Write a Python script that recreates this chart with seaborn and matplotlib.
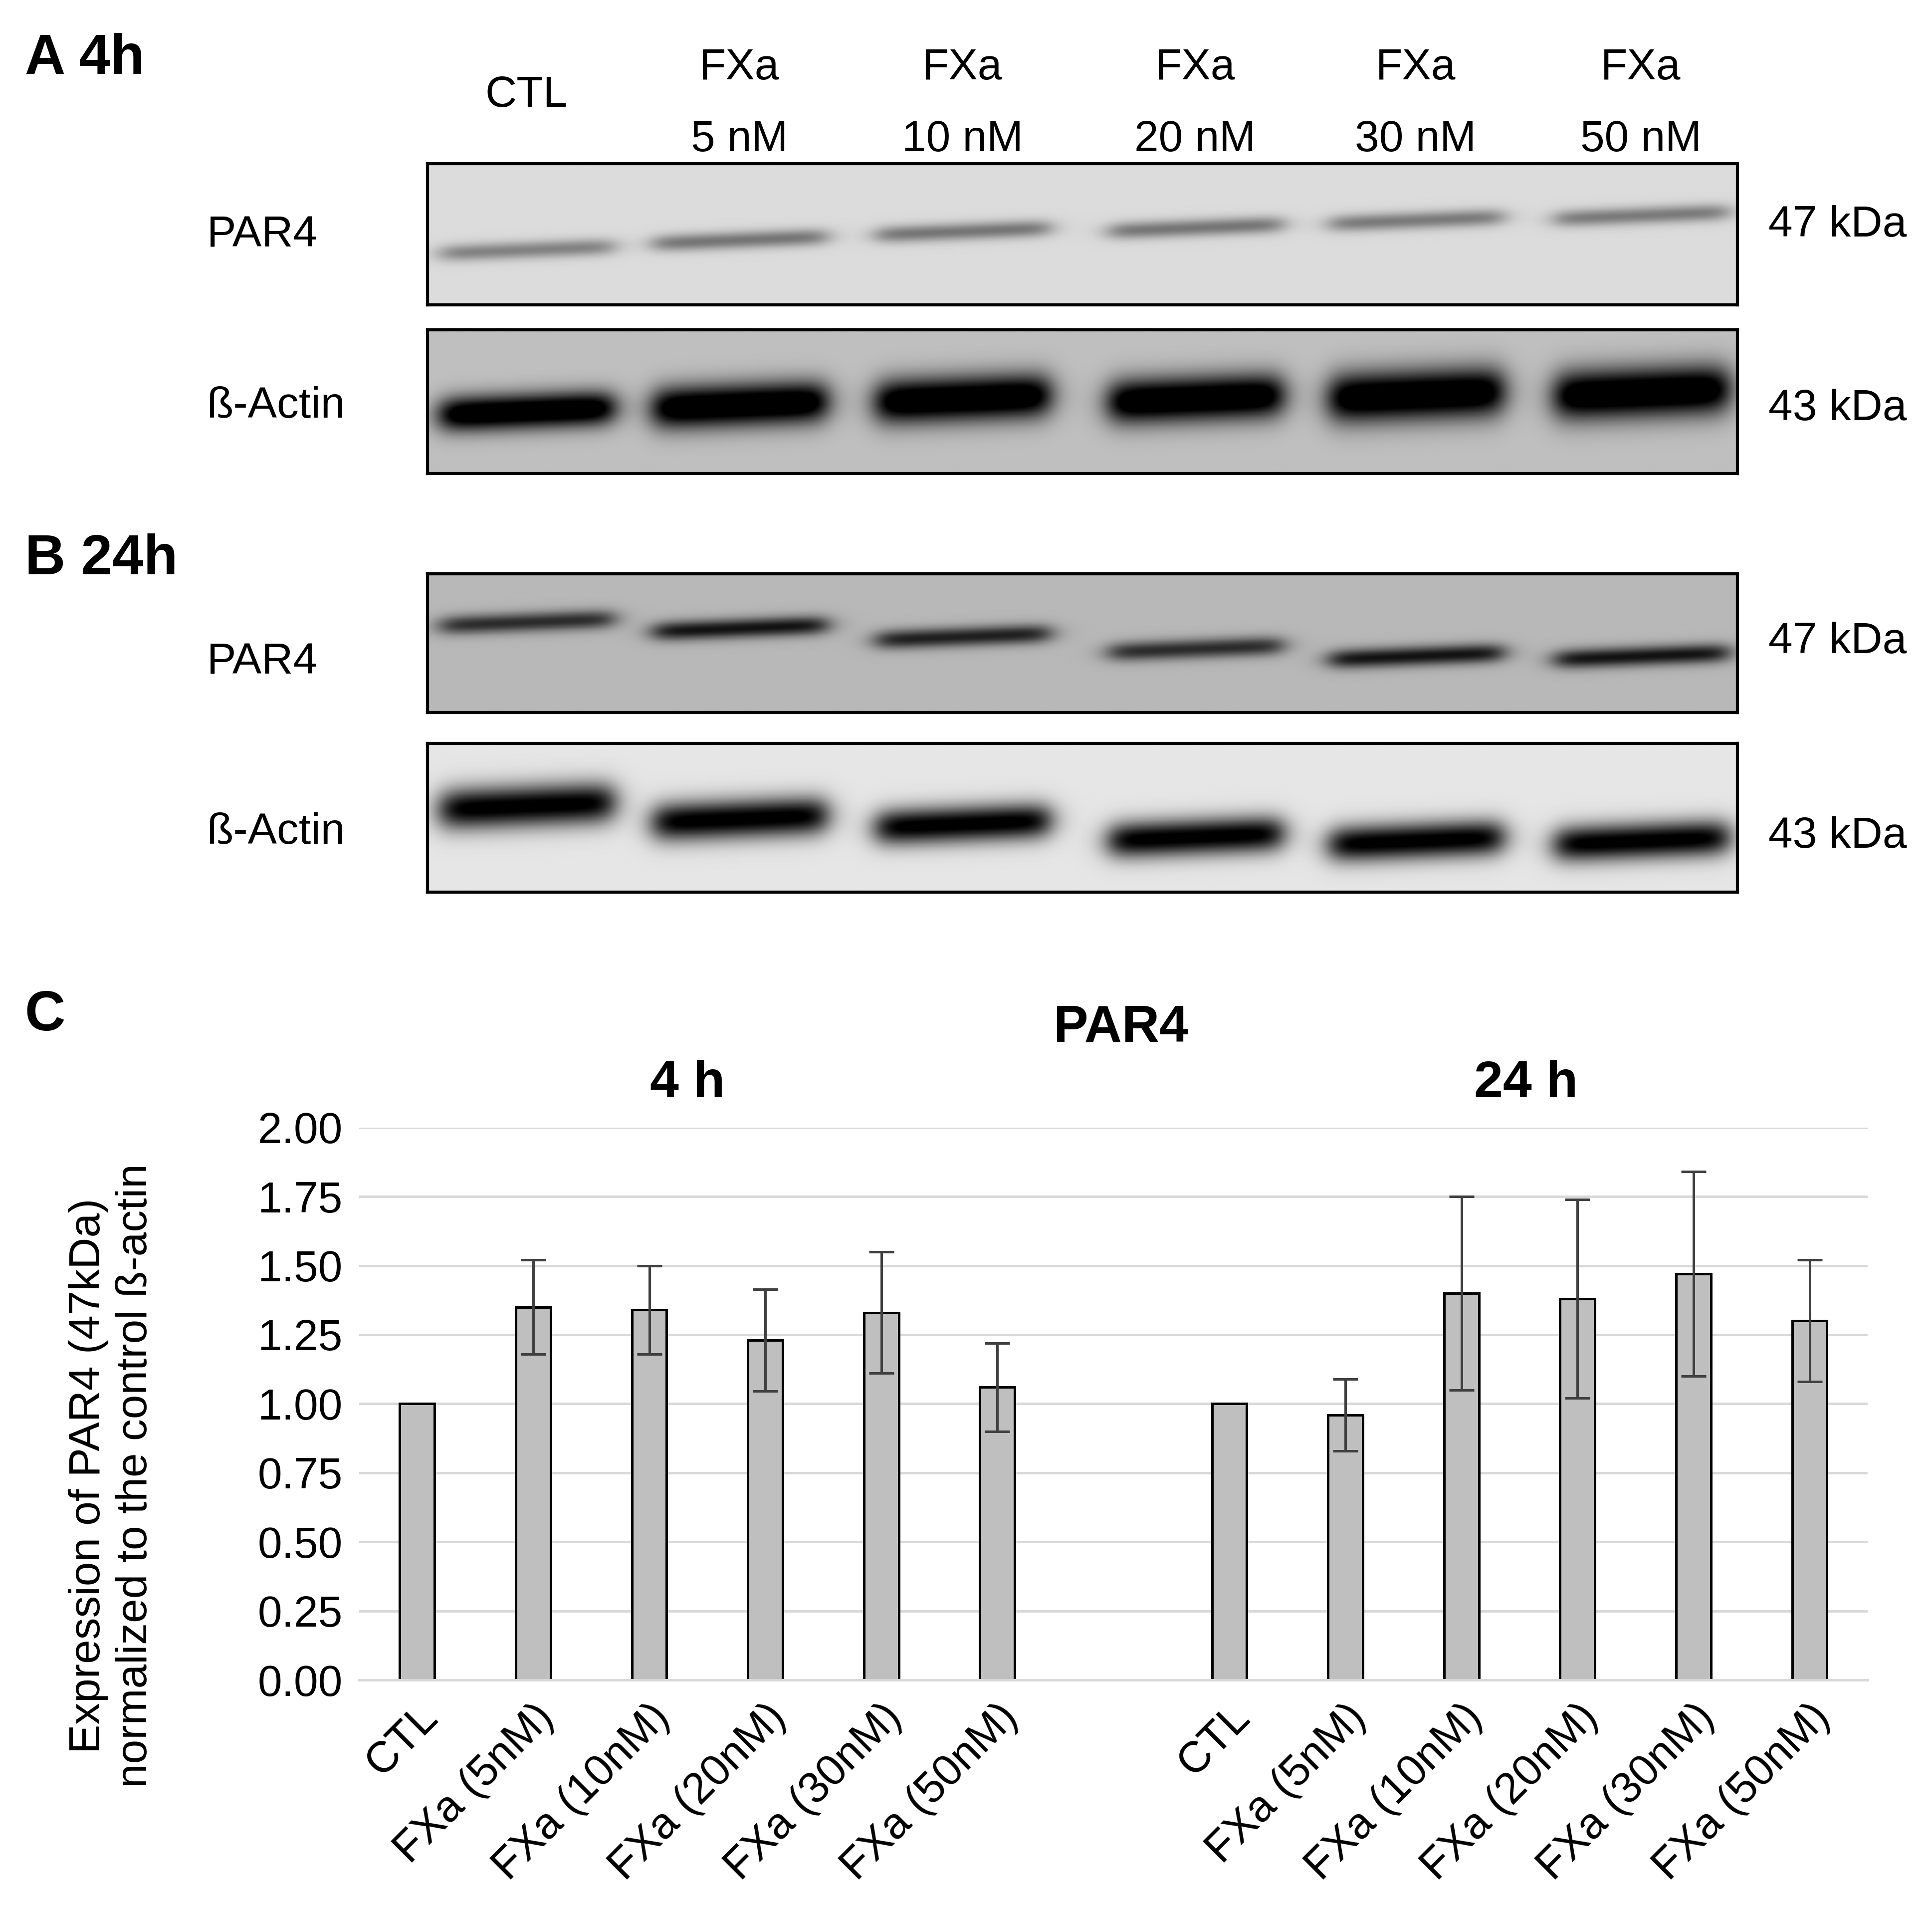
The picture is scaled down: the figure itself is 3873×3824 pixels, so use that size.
import numpy as np
import pandas as pd
import matplotlib
matplotlib.use("Agg")
import matplotlib.pyplot as plt
import seaborn as sns

sns.set_theme(style="white")
plt.rcParams['font.family'] = ['Liberation Sans', 'DejaVu Sans']
plt.rcParams['text.color'] = 'black'
plt.rcParams['axes.labelcolor'] = 'black'
plt.rcParams['xtick.color'] = 'black'
plt.rcParams['ytick.color'] = 'black'

# ---- data ----
labels = ["CTL", "FXa (5nM)", "FXa (10nM)", "FXa (20nM)", "FXa (30nM)", "FXa (50nM)"]
mean_4h = [1.00, 1.35, 1.34, 1.23, 1.33, 1.06]
err_4h = [0.0, 0.17, 0.16, 0.185, 0.22, 0.16]
mean_24h = [1.00, 0.96, 1.40, 1.38, 1.47, 1.30]
err_24h = [0.0, 0.13, 0.35, 0.36, 0.37, 0.22]
lane_top = ["CTL", "FXa", "FXa", "FXa", "FXa", "FXa"]
lane_bot = ["", "5 nM", "10 nM", "20 nM", "30 nM", "50 nM"]
yticks = [0.00, 0.25, 0.50, 0.75, 1.00, 1.25, 1.50, 1.75, 2.00]

W, H = 3873, 3824
fig = plt.figure(figsize=(W/300, H/300), dpi=300)
DW, DH = 1560, 1540
def fx(x): return x/DW
def fy(y): return 1 - y/DH

# ---- synthetic blots ----
def blot(ax, centers_y, darkness, thick, bg=0.86):
    nx, ny = 1058, 115
    xx = np.arange(nx)[None, :]
    yy = np.arange(ny)[:, None]
    img = np.full((ny, nx), bg)
    lanes = [80, 252, 432, 620, 798, 980]
    for i, lx in enumerate(lanes):
        hw = 70
        prof_x = 1/(1+np.exp(-(xx-(lx-hw))/6)) * 1/(1+np.exp((xx-(lx+hw))/6))
        cy = centers_y[i] + (xx-lx)*-0.04
        prof_y = np.exp(-((yy-cy)/thick[i])**2)
        img = img - darkness[i]*prof_x*prof_y
    img = np.clip(img, 0, 1)
    ax.imshow(img, cmap="gray", vmin=0, vmax=1, aspect="auto")
    ax.set_xticks([]); ax.set_yticks([])
    for s in ax.spines.values():
        s.set_color("black"); s.set_linewidth(1.5)

def blot_axes(y0, y1):
    return fig.add_axes([fx(345), fy(y1), fx(1403-345), (y1-y0)/DH])

a1 = blot_axes(132, 246); blot(a1, [70, 62, 55, 52, 46, 42], [0.35, 0.4, 0.4, 0.4, 0.38, 0.38], [7]*6)
a2 = blot_axes(266, 382); blot(a2, [65, 60, 55, 55, 52, 50], [0.95]*6, [14, 17, 18, 18, 20, 20], bg=0.75)
b1 = blot_axes(463, 575); blot(b1, [40, 45, 52, 62, 68, 68], [0.55, 0.65, 0.6, 0.55, 0.65, 0.65], [8]*6, bg=0.72)
b2 = blot_axes(600, 720); blot(b2, [48, 58, 62, 72, 75, 75], [0.95]*6, [16, 15, 14, 14, 14, 14], bg=0.9)

fs = 21
fig.text(fx(20), fy(48), "A 4h", fontsize=27, fontweight="bold", va="center")
fig.text(fx(20), fy(452), "B 24h", fontsize=27, fontweight="bold", va="center")
fig.text(fx(20), fy(820), "C", fontsize=27, fontweight="bold", va="center")
lane_x = [425, 597, 777, 965, 1143, 1325]
for i, x in enumerate(lane_x):
    if lane_bot[i]:
        fig.text(fx(x), fy(55), lane_top[i], fontsize=fs, ha="center", va="center")
        fig.text(fx(x), fy(113), lane_bot[i], fontsize=fs, ha="center", va="center")
    else:
        fig.text(fx(x), fy(77), lane_top[i], fontsize=fs, ha="center", va="center")
for y, t in [(190, "PAR4"), (328, "ß-Actin"), (535, "PAR4"), (672, "ß-Actin")]:
    fig.text(fx(167), fy(y), t, fontsize=fs, va="center")
for y, t in [(182, "47 kDa"), (330, "43 kDa"), (518, "47 kDa"), (675, "43 kDa")]:
    fig.text(fx(1428), fy(y), t, fontsize=fs, va="center")

# ---- bar chart ----
pos = list(range(6)) + list(range(7, 13))
df = pd.DataFrame({"pos": pos, "mean": mean_4h + mean_24h, "err": err_4h + err_24h})
ax = fig.add_axes([fx(290), fy(1356), fx(1508-290), (1356-910)/DH])
sns.barplot(data=df, x="pos", y="mean", native_scale=True, color="#bfbfbf",
            width=0.3, edgecolor="black", linewidth=1.2, saturation=1, ax=ax, errorbar=None)
m = df["err"] > 0
ax.errorbar(df["pos"][m], df["mean"][m], yerr=df["err"][m], fmt="none",
            ecolor="#404040", elinewidth=1.2, capsize=6, capthick=1.2)
ax.set_xlim(-0.5, 12.5)
ax.set_ylim(0, 2.0)
ax.set_yticks(yticks)
ax.set_yticklabels([f"{v:.2f}" for v in yticks], fontsize=fs)
ax.set_xticks(pos)
ax.set_xticklabels(labels + labels, rotation=45, ha="right", rotation_mode="anchor", fontsize=fs)
ax.tick_params(axis="both", length=0, pad=8)
ax.yaxis.grid(True, color="#d9d9d9", linewidth=1.2)
ax.set_axisbelow(True)
for s in ["top", "right", "left"]:
    ax.spines[s].set_visible(False)
ax.spines["bottom"].set_color("#d9d9d9"); ax.spines["bottom"].set_linewidth(1.2)
ax.set_xlabel("")
ax.set_ylabel("Expression of PAR4 (47kDa)\nnormalized to the control ß-actin", fontsize=fs)
ax.yaxis.set_label_coords(-0.135, 0.37)

fig.text(fx(905), fy(830), "PAR4", fontsize=25, fontweight="bold", ha="center", va="center")
fig.text(fx(555), fy(875), "4 h", fontsize=25, fontweight="bold", ha="center", va="center")
fig.text(fx(1232), fy(875), "24 h", fontsize=25, fontweight="bold", ha="center", va="center")

fig.savefig("out.png", dpi=300)
